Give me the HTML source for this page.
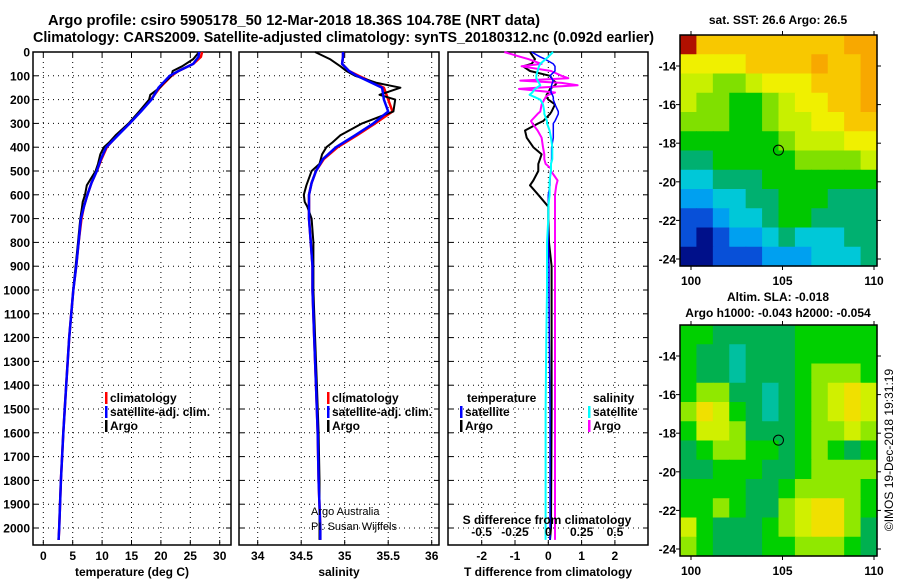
<!DOCTYPE html>
<html><head><meta charset="utf-8"><style>
html,body{margin:0;padding:0;background:#fff}
svg{display:block;font-family:"Liberation Sans",Arial,sans-serif;font-weight:bold}
</style></head><body>
<svg id="c" width="900" height="580" viewBox="0 0 900 580">
<text x="48" y="25" font-size="14.5" textLength="492" lengthAdjust="spacingAndGlyphs">Argo profile: csiro 5905178_50 12-Mar-2018 18.36S 104.78E (NRT data)</text>
<text x="33" y="42" font-size="14.5" textLength="621" lengthAdjust="spacingAndGlyphs">Climatology: CARS2009. Satellite-adjusted climatology: synTS_20180312.nc (0.092d earlier)</text>
<text x="778" y="24" font-size="12" text-anchor="middle">sat. SST: 26.6 Argo: 26.5</text>
<text x="778" y="301" font-size="12" text-anchor="middle">Altim. SLA: -0.018</text>
<text x="778" y="317" font-size="12" text-anchor="middle">Argo h1000: -0.043 h2000: -0.054</text>
<text transform="translate(893,450) rotate(-90)" font-size="12" font-weight="normal" text-anchor="middle">©IMOS 19-Dec-2018 19:31:19</text>
<g id="g"></g>
</svg>
<script>
// ---- data ----
const depthTicks=[0,100,200,300,400,500,600,700,800,900,1000,1100,1200,1300,1400,1500,1600,1700,1800,1900,2000];
const tempTicks=[0,5,10,15,20,25,30];
const salTicks=[34,34.5,35,35.5,36];
const tdiffTicks=[-2,-1,0,1,2];
const sdiffTicks=[-0.5,-0.25,0,0.25,0.5];
const sdiffTickLabels=["-0.5","-0.25","0","0.25","0.5"];
const depthClim=[0,20,50,80,100,150,200,250,300,350,400,450,500,550,600,650,700,800,900,1000,1200,1400,1600,1800,2000,2050];
const tempClim=[27.0,26.8,25.5,23.0,21.8,19.8,18.3,16.5,14.7,12.6,10.8,9.9,9.1,8.2,7.5,6.9,6.5,6.0,5.6,5.1,4.4,3.9,3.4,3.0,2.7,2.6];
const tempSat=[26.5,26.4,25.5,23.0,21.5,19.6,18.4,16.6,14.7,12.7,10.7,9.8,9.1,8.2,7.5,6.9,6.4,6.0,5.6,5.1,4.4,3.9,3.4,3.0,2.7,2.6];
const depthArgo=[0,30,60,80,100,130,150,180,200,250,300,350,380,400,430,470,500,560,600,630,650,700,800,900,1000,1200,1400,1600,1800,2000,2050];
const tempArgo=[26.5,25.5,23.6,22.0,21.8,20.5,19.8,18.2,18.0,16.3,14.5,12.3,11.2,10.3,9.7,9.3,8.9,7.4,7.1,6.7,6.6,6.3,5.9,5.5,5.1,4.4,3.9,3.4,3.0,2.7,2.6];
const salClim=[34.98,34.98,34.97,35.05,35.16,35.45,35.50,35.55,35.35,35.14,34.92,34.76,34.67,34.62,34.59,34.59,34.59,34.61,34.63,34.63,34.65,34.67,34.69,34.70,34.72,34.72];
const salSat=[34.98,34.98,34.97,35.05,35.14,35.43,35.45,35.50,35.33,35.12,34.90,34.75,34.67,34.62,34.59,34.59,34.59,34.61,34.63,34.63,34.65,34.67,34.69,34.70,34.72,34.72];
const salArgo=[34.66,34.83,34.95,35.02,35.12,35.37,35.64,35.40,35.58,35.56,35.20,34.95,34.86,34.79,34.74,34.71,34.62,34.56,34.53,34.54,34.57,34.62,34.64,34.64,34.64,34.66,34.68,34.70,34.71,34.71,34.71];
const depthDiff=[0,20,30,50,60,80,100,110,120,130,140,155,170,180,190,200,220,250,260,290,300,330,360,400,430,450,470,490,500,540,560,600,650,700,800,900,1000,1200,1500,2000,2050];
const tdiffArgo=[-0.55,-0.45,-0.4,-0.5,-0.76,-0.55,0.05,0.1,0.15,0.25,0.2,0.05,0.0,-0.05,-0.05,0.0,0.2,0.1,0.05,-0.15,-0.3,-0.7,-0.65,-0.45,-0.2,-0.25,-0.3,-0.3,-0.3,-0.45,-0.55,-0.3,0.0,0.0,0.02,0.1,0.1,0.1,0.1,0.08,0.05];
const sdiffArgo=[-0.33,-0.21,-0.15,-0.05,-0.2,0.02,0.1,0.15,-0.21,0.1,0.22,-0.22,0.05,0.0,-0.02,-0.03,-0.05,-0.06,-0.08,-0.13,-0.12,-0.08,-0.05,-0.04,-0.03,-0.03,-0.02,0.02,0.02,0.07,0.06,0.05,0.05,0.05,0.05,0.05,0.05,0.05,0.05,0.05,0.05];
const tdiffSat=[-0.5,-0.25,-0.1,0.15,0.2,0.2,0.05,0.1,0.15,0.12,0.1,0.08,0.08,0.12,0.15,0.15,0.2,0.3,0.3,0.2,0.15,0.15,0.15,0.1,0.1,0.1,0.08,0.08,0.07,0.05,0.05,0.0,0.0,0.0,0.0,0.02,0.02,0.03,0.05,0.05,0.05];
const sdiffSat=[0.035,0.0,-0.02,-0.06,-0.07,-0.08,-0.09,-0.09,-0.08,-0.07,-0.06,-0.1,-0.12,-0.14,-0.1,-0.06,-0.04,-0.03,-0.03,-0.01,-0.01,0.01,0.02,0.03,0.03,0.03,0.02,0.02,0.02,0.01,0.01,0.01,0.0,0.0,-0.01,-0.01,-0.01,-0.015,-0.02,-0.02,-0.02];
const lonTicks=[100,105,110];
const latTicks=[-14,-16,-18,-20,-22,-24];
const floatLon=104.78, floatLat=-18.36;
const sstGrid=[
[11,9,9,9,9,9,9,9,9,9,10,10],
[8,8,8,8,9,9,9,9,10,9,9,10],
[7,7,6,6,7,8,8,8,9,9,9,10],
[7,6,6,5,5,6,7,8,8,9,9,10],
[6,6,6,5,5,6,7,7,8,8,9,9],
[5,5,5,5,5,5,6,7,7,7,8,8],
[4,4,5,5,5,5,5,6,6,6,6,7],
[3,3,4,4,4,5,5,5,5,5,5,5],
[2,2,3,3,4,4,5,5,5,4,4,4],
[1,1,2,3,3,4,5,5,4,4,4,4],
[1,0,1,2,2,3,4,3,3,3,4,4],
[0,0,1,1,1,2,2,2,3,3,3,4]];
const slaGrid=[
[5,5,4,4,4,4,4,5,5,5,5,5],
[5,4,4,3,4,4,4,5,5,5,5,5],
[5,4,4,3,4,4,4,5,6,6,6,5],
[5,6,6,4,4,3,4,5,6,7,8,7],
[6,8,7,5,4,3,4,5,6,7,8,7],
[5,7,7,6,4,4,4,5,6,6,7,6],
[4,5,6,6,5,5,4,5,6,5,4,5],
[4,4,5,5,5,4,4,5,6,6,6,6],
[5,5,5,5,4,4,5,6,6,6,6,5],
[5,5,6,5,4,4,6,7,8,8,6,5],
[7,5,4,4,4,5,6,7,8,8,6,4],
[6,5,4,4,4,5,5,6,6,6,5,4]];
const palette=["#00108a","#0850d8","#00a0f0","#00c8d8","#00b070","#00c800","#80e000","#c8f000","#f0f000","#f8c800","#f8a800","#b01000"];
const slaPalette=["#00108a","#0850d8","#00a0f0","#00c0a0","#00b050","#00d000","#90e800","#d0f000","#f0e000"];

// ---- drawing ----
const NS="http://www.w3.org/2000/svg";
const G=document.getElementById('g');
function mk(tag,attrs,parent){const e=document.createElementNS(NS,tag);for(const k in attrs)e.setAttribute(k,attrs[k]);(parent||G).appendChild(e);return e;}
const TOP=52, BOT=545;
const yD=d=>TOP+d*0.238;
function panel(x0,x1,xmap,ticks,labels,name,title){
  const grp=mk('g',{});
  
  
  ticks.forEach((t,i)=>{
    const x=xmap(t);
    const l=mk('line',{x1:x,x2:x,y1:TOP,y2:BOT,stroke:'#000','stroke-width':1,'stroke-dasharray':'1,4'},grp);
    
    
    mk('line',{x1:x,x2:x,y1:BOT,y2:BOT-5,stroke:'#000'},grp);
    mk('line',{x1:x,x2:x,y1:TOP,y2:TOP+5,stroke:'#000'},grp);
    if(labels){const tx=mk('text',{x:x,y:560,'font-size':12,'text-anchor':'middle'},grp);tx.textContent=labels[i];
      
      }
  });
  depthTicks.forEach(d=>{
    const y=yD(d);
    mk('line',{x1:x0,x2:x1,y1:y,y2:y,stroke:'#000','stroke-dasharray':'1,4'},grp);
    mk('line',{x1:x0,x2:x0+5,y1:y,y2:y,stroke:'#000'},grp);
    mk('line',{x1:x1,x2:x1-5,y1:y,y2:y,stroke:'#000'},grp);
  });
  mk('rect',{x:x0,y:TOP,width:x1-x0,height:BOT-TOP,fill:'none',stroke:'#000','stroke-width':1.5},grp);
  if(title){const t=mk('text',{x:(x0+x1)/2,y:576,'font-size':12,'text-anchor':'middle'},grp);t.textContent=title;
    
    }
  return grp;
}
function line(xs,ds,xmap,color,w,name){
  const pts=xs.map((v,i)=>xmap(v).toFixed(1)+','+yD(ds[i]).toFixed(1)).join(' ');
  const p=mk('polyline',{points:pts,fill:'none',stroke:color,'stroke-width':w,'stroke-linejoin':'round'});
  
  
}
depthTicks.forEach(d=>{const t=mk('text',{x:30,y:yD(d)+4.5,'font-size':12,'text-anchor':'end'});t.textContent=d;
  
  });
const xT=v=>43.3+v*5.88;
panel(33,231,xT,tempTicks,tempTicks.map(String),'temperature-panel','temperature (deg C)');
line(tempClim,depthClim,xT,'#f00',2.5,'temp-climatology-line');
line(tempArgo,depthArgo,xT,'#000',2,'temp-argo-line');
line(tempSat,depthClim,xT,'#00f',2.5,'temp-satellite-line');
const xS=v=>257.7+(v-34)*87;
panel(239,439,xS,salTicks,salTicks.map(String),'salinity-panel','salinity');
line(salClim,depthClim,xS,'#f00',2.5,'sal-climatology-line');
line(salArgo,depthArgo,xS,'#000',2,'sal-argo-line');
line(salSat,depthClim,xS,'#00f',2.5,'sal-satellite-line');
const xTd=v=>548.3+v*33.3;
const xSd=v=>548.3+v*133.3;
panel(448,648,xTd,tdiffTicks,tdiffTicks.map(String),'difference-panel','T difference from climatology');
line(tdiffArgo,depthDiff,xTd,'#000',2,'tdiff-argo-line');
line(sdiffArgo,depthDiff,xSd,'#f0f',2,'sdiff-argo-line');
line(tdiffSat,depthDiff,xTd,'#00f',1.5,'tdiff-satellite-line');
line(sdiffSat,depthDiff,xSd,'#0ff',2,'sdiff-satellite-line');
sdiffTicks.forEach((t,i)=>{const tx=mk('text',{x:xSd(t),y:536,'font-size':12,'text-anchor':'middle'});tx.textContent=sdiffTickLabels[i];
  
  });
{const t=mk('text',{x:547,y:524,'font-size':12,'text-anchor':'middle'});t.textContent='S difference from climatology';
 
 }
function legend(x,y,color,label,name){
  const g=mk('g',{});
  
  
  mk('rect',{x:x,y:y-10,width:2.5,height:12,fill:color},g);
  const t=mk('text',{x:x+5,y:y,'font-size':12},g);t.textContent=label;
}
legend(105,402,'#f00','climatology','legend-climatology');
legend(105,416,'#00f','satellite-adj. clim.','legend-satellite');
legend(105,430,'#000','Argo','legend-argo');
legend(327,402,'#f00','climatology','legend-sal-climatology');
legend(327,416,'#00f','satellite-adj. clim.','legend-sal-satellite');
legend(327,430,'#000','Argo','legend-sal-argo');
{const t=mk('text',{x:467,y:402,'font-size':12});t.textContent='temperature';
 
 
 const s=mk('text',{x:593,y:402,'font-size':12});s.textContent='salinity';
 
 }
legend(460,416,'#00f','satellite','legend-tdiff-satellite');
legend(460,430,'#000','Argo','legend-tdiff-argo');
legend(588,416,'#0ff','satellite','legend-sdiff-satellite');
legend(588,430,'#f0f','Argo','legend-sdiff-argo');
{const a=mk('text',{x:311,y:515,'font-size':11,'font-weight':'normal'});a.textContent='Argo Australia';
 
 
 const b=mk('text',{x:311,y:530,'font-size':11,'font-weight':'normal'});b.textContent='PI: Susan Wijffels';
 
 }
const lonX=v=>691+(v-100)*18.3;
function map(top,bot,grid,pal,name){
  const latY=v=>top+31+(-14-v)*((bot-top-38)/10);
  const g=mk('g',{});
  
  
  const x0=680,x1=877,rows=grid.length,cols=grid[0].length;
  const cw=(x1-x0)/cols,ch=(bot-top)/rows;
  grid.forEach((r,i)=>r.forEach((v,j)=>{
    const c=mk('rect',{x:x0+j*cw,y:top+i*ch,width:cw+0.6,height:ch+0.6,fill:pal[v]},g);
    
    
  }));
  mk('rect',{x:x0,y:top,width:x1-x0,height:bot-top,fill:'none',stroke:'#000','stroke-width':1.5},g);
  lonTicks.forEach(v=>{const x=lonX(v);mk('line',{x1:x,x2:x,y1:bot,y2:bot+4,stroke:'#000'},g);mk('line',{x1:x,x2:x,y1:top,y2:top-4,stroke:'#000'},g);
    const t=mk('text',{x:x,y:bot+19,'font-size':12,'text-anchor':'middle'},g);t.textContent=v;
    
    });
  latTicks.forEach(v=>{const y=latY(v);mk('line',{x1:x0,x2:x0-4,y1:y,y2:y,stroke:'#000'},g);mk('line',{x1:x1,x2:x1+4,y1:y,y2:y,stroke:'#000'},g);
    const t=mk('text',{x:676,y:y+4.5,'font-size':12,'text-anchor':'end'},g);t.textContent=v;
    
    });
  const m=mk('circle',{cx:lonX(floatLon),cy:latY(floatLat),r:5,fill:'none',stroke:'#000','stroke-width':1},g);
  
  
}
map(35,266,sstGrid,palette,'sst-map');
map(325,556,slaGrid,slaPalette,'sla-map');
</script>
</body></html>
